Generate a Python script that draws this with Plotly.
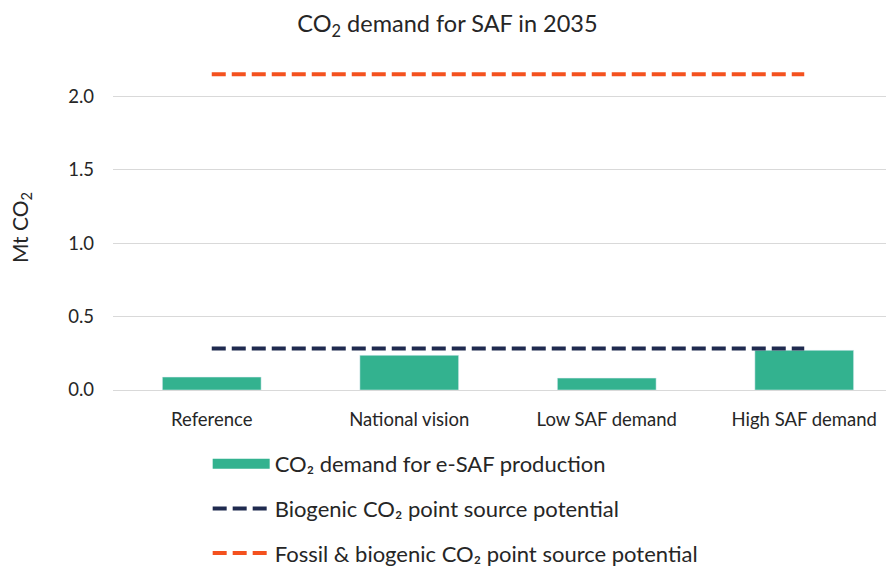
import plotly.graph_objects as go

scenarios = ["Reference", "National vision", "Low SAF demand", "High SAF demand"]
esaf_demand = [0.088, 0.236, 0.081, 0.270]
biogenic_potential = [0.283, 0.283, 0.283, 0.283]
fossil_biogenic_potential = [2.148, 2.148, 2.148, 2.148]

GREEN = "#33B28F"
NAVY = "#1F2A4F"
ORANGE = "#F4511E"
TEXT = "#262626"
FONT = "Lato"

fig = go.Figure()

# bars, legend entry drawn by a wide line below so the swatch is a bar-like strip
fig.add_trace(go.Bar(
    x=scenarios, y=esaf_demand,
    name="CO₂ demand for e-SAF production",
    marker_color=GREEN, width=0.5,
    showlegend=False,
))
fig.add_trace(go.Scatter(
    x=[None], y=[None], mode="lines",
    name="CO₂ demand for e-SAF production",
    line=dict(color=GREEN, width=12),
    legendgroup="a",
))
fig.add_trace(go.Scatter(
    x=scenarios, y=biogenic_potential, mode="lines",
    name="Biogenic CO₂ point source potential",
    line=dict(color=NAVY, width=4, dash="14px,6px"),
    legendgroup="b",
))
fig.add_trace(go.Scatter(
    x=scenarios, y=fossil_biogenic_potential, mode="lines",
    name="Fossil & biogenic CO₂ point source potential",
    line=dict(color=ORANGE, width=4, dash="14px,6px"),
    legendgroup="c",
))

fig.update_layout(
    width=894, height=566,
    margin=dict(l=105, r=0, t=44, b=181),
    paper_bgcolor="white", plot_bgcolor="white",
    font=dict(family=FONT, color=TEXT, size=18),
    title=dict(text="CO<sub>2</sub> demand for SAF in 2035",
               x=0.4916, xanchor="center", y=0.972, yanchor="middle",
               font=dict(size=23.5, color=TEXT)),
    legend=dict(orientation="v", x=0.12, xanchor="left", y=-0.158, yanchor="top",
                font=dict(size=22, color=TEXT), tracegroupgap=13, itemwidth=57,
                bgcolor="rgba(0,0,0,0)"),
    showlegend=True,
    annotations=[dict(text="Mt CO<sub>2</sub>", textangle=-90, showarrow=False,
                      xref="paper", yref="paper", x=-0.1166, y=0.479,
                      xanchor="center", yanchor="middle",
                      font=dict(size=21, color=TEXT))],
)

fig.update_xaxes(
    range=[-0.5, 3.495], showgrid=False, showline=False, zeroline=False,
    ticks="", ticklabelstandoff=16, tickfont=dict(size=18.5, color=TEXT),
)
fig.update_yaxes(
    range=[0, 2.3], dtick=0.5, tick0=0, tickformat=".1f",
    showgrid=True, gridcolor="#D9D9D9", gridwidth=1,
    zeroline=True, zerolinecolor="#D9D9D9", zerolinewidth=1,
    showline=False, ticks="", ticklabelstandoff=18,
    tickfont=dict(size=18.5, color=TEXT),
)

fig.write_html("out.html")
